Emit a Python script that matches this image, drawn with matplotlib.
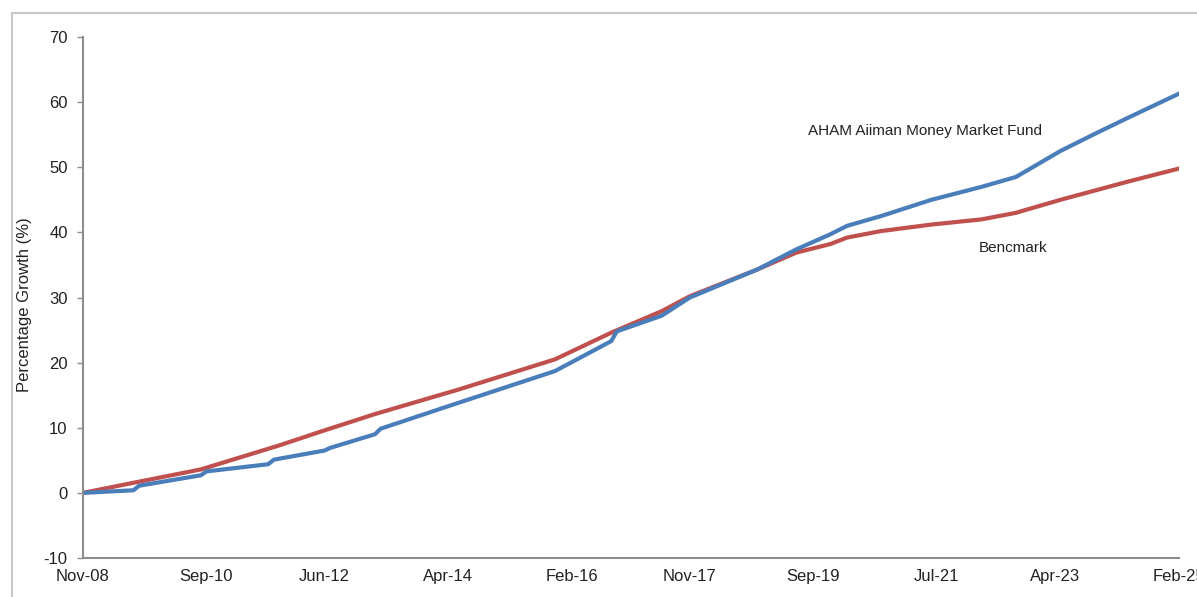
import matplotlib.pyplot as plt
import pandas as pd
from matplotlib.patches import Rectangle

# fund (blue) - readings, the small jumps are kept as two close points
fund_dates = ['2008-11', '2009-08', '2009-09', '2010-08', '2010-09', '2011-08', '2011-09',
              '2012-06', '2012-07', '2013-03', '2013-04', '2014-04', '2015-11', '2016-09',
              '2016-10', '2017-06', '2017-11', '2018-11', '2019-06', '2019-12', '2020-03',
              '2020-09', '2021-06', '2022-03', '2022-09', '2022-11', '2023-05', '2023-11',
              '2024-05', '2025-02']
fund_vals = [0.0, 0.4, 1.1, 2.7, 3.3, 4.4, 5.1,
             6.5, 6.9, 9.0, 9.85, 13.3, 18.7, 23.3,
             24.8, 27.2, 30.0, 34.3, 37.4, 39.7, 41.0,
             42.5, 45.0, 47.0, 48.5, 49.5, 52.5, 55.1,
             57.6, 61.3]

# benchmark (red)
bench_dates = ['2008-11', '2009-08', '2010-08', '2011-10', '2012-06', '2013-03', '2014-06',
               '2015-11', '2016-09', '2017-06', '2017-11', '2018-11', '2019-06', '2019-12',
               '2020-03', '2020-09', '2021-06', '2022-03', '2022-09', '2023-05', '2024-05',
               '2025-02']
bench_vals = [0.0, 1.55, 3.6, 7.3, 9.6, 12.1, 15.9,
              20.5, 24.6, 27.9, 30.2, 34.3, 36.9, 38.2,
              39.2, 40.2, 41.2, 42.0, 43.0, 45.0, 47.8,
              49.8]

tick_labels = ['Nov-08', 'Sep-10', 'Jun-12', 'Apr-14', 'Feb-16',
               'Nov-17', 'Sep-19', 'Jul-21', 'Apr-23', 'Feb-25']

plt.rcParams['font.family'] = ['Liberation Sans', 'DejaVu Sans']
plt.rcParams['axes.unicode_minus'] = False

fig = plt.figure(figsize=(11.97, 5.97), dpi=100)
# light frame around the chart area
fig.patches.append(Rectangle((12 / 1197, -0.05), 1.2, 1 - 13 / 597 + 0.05,
                             transform=fig.transFigure, fill=False,
                             edgecolor='#c8c8c8', linewidth=1.5))
ax = fig.add_axes([83 / 1197, 1 - 558 / 597, (1179 - 83) / 1197, (558 - 37) / 597])

fd = pd.to_datetime(fund_dates)
bd = pd.to_datetime(bench_dates)
ax.plot(bd, bench_vals, color='#c0504d', linewidth=3, solid_joinstyle='round')
ax.plot(fd, fund_vals, color='#4a7ebb', linewidth=3, solid_joinstyle='round')

ticks = pd.to_datetime(tick_labels, format='%b-%y')
ax.set_xlim(ticks[0], ticks[-1])
ax.set_xticks(ticks)
ax.set_xticklabels(tick_labels)
ax.set_ylim(-10, 70)
ax.set_yticks(range(-10, 71, 10))

for s in ['top', 'right']:
    ax.spines[s].set_visible(False)
for s in ['left', 'bottom']:
    ax.spines[s].set_color('#8c8c8c')
    ax.spines[s].set_linewidth(1.5)
ax.tick_params(axis='y', direction='out', length=4, width=1, color='#8c8c8c',
               pad=7, labelsize=12, labelcolor='#222222')
ax.tick_params(axis='x', length=0, pad=8, labelsize=12, labelcolor='#222222')
ax.set_ylabel('Percentage Growth (%)', fontsize=12, color='#222222')
ax.yaxis.set_label_coords(-0.0465, 0.486)

ax.text(pd.Timestamp('2019-08-01'), 55.6, 'AHAM Aiiman Money Market Fund',
        fontsize=11, color='#222222', va='center', ha='left')
ax.text(pd.Timestamp('2022-02-10'), 37.6, 'Bencmark',
        fontsize=11, color='#222222', va='center', ha='left')

fig.savefig('out.png', dpi=100)
